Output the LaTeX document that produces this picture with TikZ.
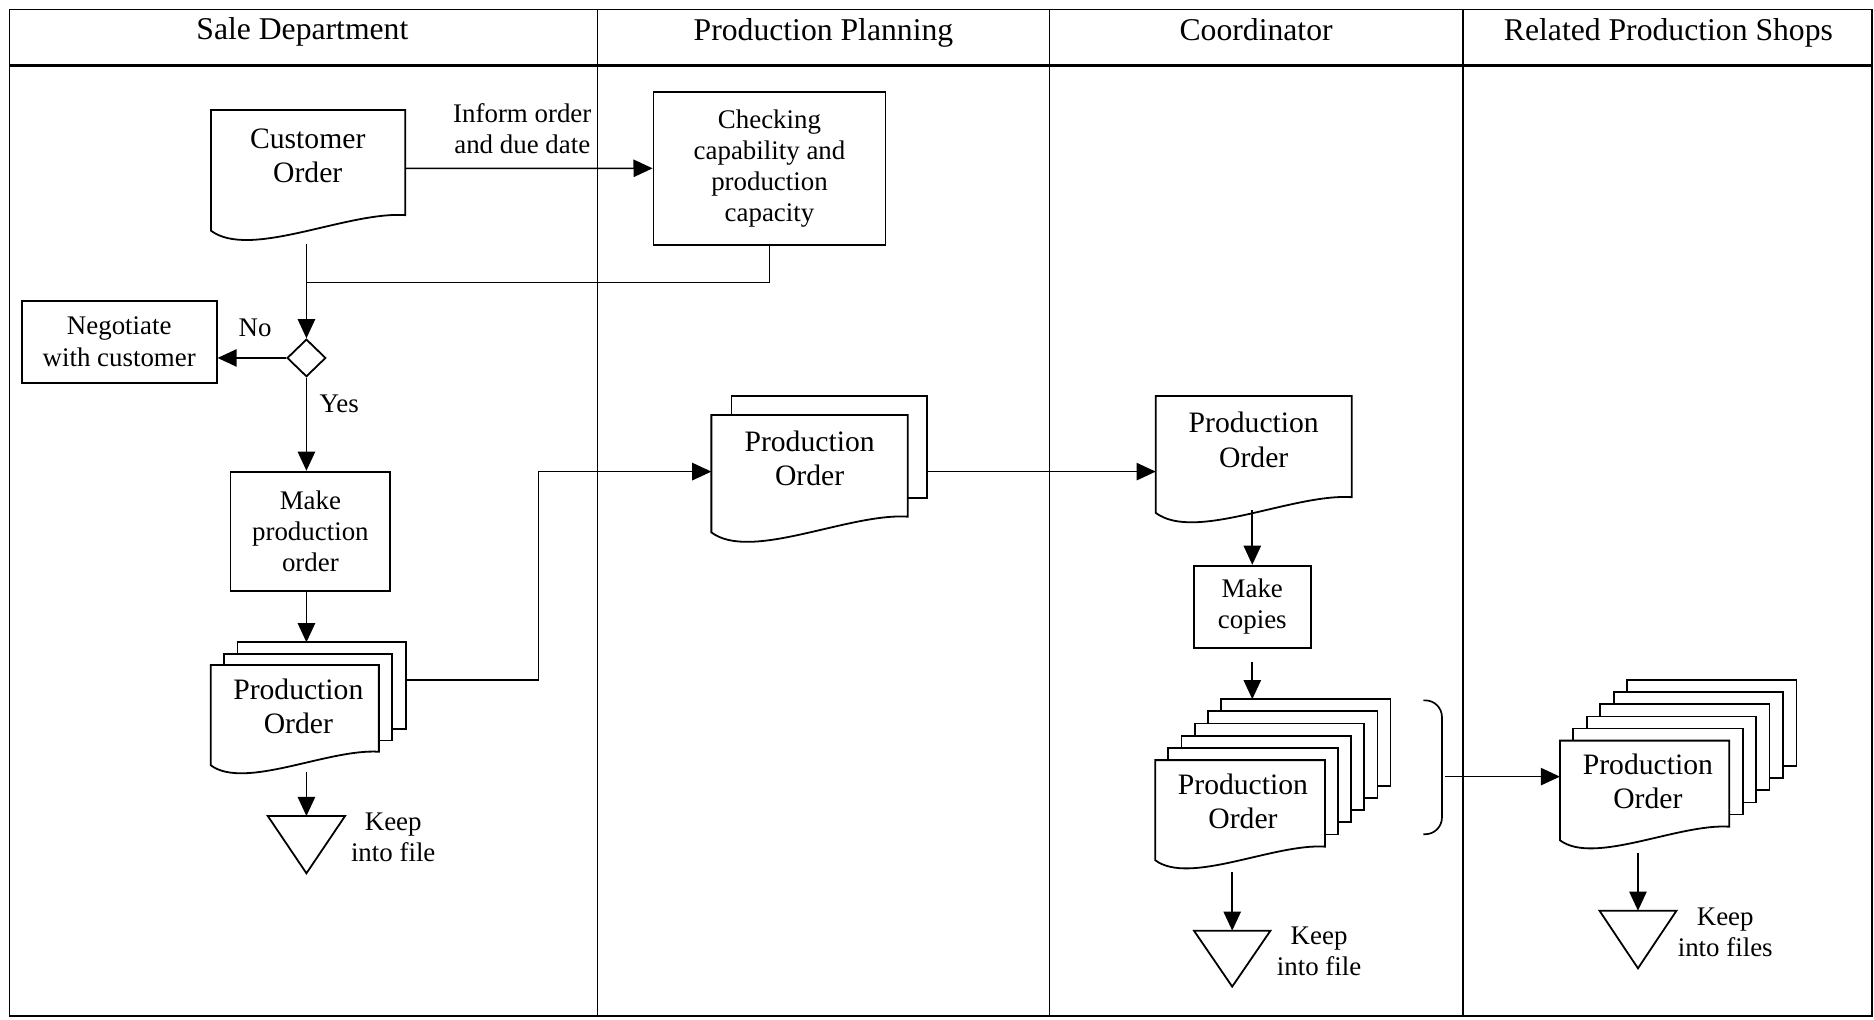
\documentclass[tikz,border=0pt]{standalone}
\usepackage{fontspec}
\setmainfont{Liberation Serif}
\usetikzlibrary{arrows.meta,shapes.geometric}

% document sheet with a wavy lower edge: left, top, right, right-bottom (y grows downward)
\newcommand\docsheet[4]{%
  \pgfmathsetmacro\dsW{#3-#1}%
  \pgfmathsetmacro\dsL{#4+0.08*\dsW}%
  \pgfmathsetmacro\dsA{#3-0.3*\dsW}%
  \pgfmathsetmacro\dsD{#4-0.02*\dsW}%
  \pgfmathsetmacro\dsB{#1+0.2*\dsW}%
  \pgfmathsetmacro\dsC{\dsL+0.15*\dsW}%
  \draw[sheet] (#1,#2) -- (#3,#2) -- (#3,#4) .. controls (\dsA,\dsD) and (\dsB,\dsC) .. (#1,\dsL) -- cycle;%
}

\begin{document}
\begin{tikzpicture}[x=1pt,y=-1pt,
  wire/.style={line width=1.4pt},
  arr/.style={wire,-{Triangle[length=16pt,width=14.5pt]}},
  sheet/.style={draw,line width=1.5pt,fill=white},
  box/.style={draw,line width=1.5pt,fill=white,inner sep=0pt,align=center,
              font={\fontsize{22.5}{26}\selectfont}},
  lbl/.style={inner sep=0pt,align=center,font={\fontsize{22.5}{26}\selectfont}},
  doclbl/.style={inner sep=0pt,align=center,font={\fontsize{24.8}{29}\selectfont}},
  head/.style={inner sep=0pt,anchor=base,font={\fontsize{26.5}{30}\selectfont}},
]
\useasboundingbox (0,0) rectangle (1568,853);

% ---------- swimlanes ----------
\draw[line width=1.5pt] (8,8) rectangle (1566,850);
\draw[line width=2.2pt] (8,55) -- (1566,55);
\foreach \x in {500,878,1224} \draw[line width=1.3pt] (\x,8) -- (\x,850);

\node[head] (h1) at (253,33)  {Sale Department};
\node[head] (h2) at (689,33.5)  {Production Planning};
\node[head] (h3) at (1051,33.5) {Coordinator};
\node[head] (h4) at (1396,33.5) {Related Production Shops};

% ---------- Sale Department ----------
\docsheet{176.5}{92}{339}{180}
\node[doclbl] (co) at (257.5,130.3) {Customer\\Order};
\coordinate (co-r) at (339,140.9);
\coordinate (co-out) at (256.4,204.4);

\node[box,minimum width=194.1pt,minimum height=128.3pt] (ck) at (643.85,140.85)
  {Checking\\capability and\\production\\capacity};
\node[lbl] (inf) at (437,108) {Inform order\\and due date};
\draw[arr] (co-r) -- (ck.west);

\node[draw,diamond,line width=1.5pt,fill=white,inner sep=0pt,
      minimum width=32.4pt,minimum height=31.4pt] (dia) at (256.4,299.5) {};
\coordinate (join) at (256.4,236.5);
\draw[wire] (ck.south) -- (ck.south |- join) -- (join);
\draw[arr] (co-out) -- (dia.north);

\node[box,minimum width=163.1pt,minimum height=68.6pt] (neg) at (99.75,285.9)
  {Negotiate\\with customer};
\draw[arr] (dia.west) -- (dia.west -| neg.east);
\node[lbl] (no) at (213.4,274) {No};
\node[lbl] (yes) at (283.8,337.5) {Yes};

\node[box,minimum width=133.6pt,minimum height=99.9pt] (mpo) at (259.7,444.6)
  {Make\\production\\order};
\draw[arr] (dia.south) -- (dia.south |- mpo.north);

% stack of production orders
\foreach \i in {2,1}
  \draw[sheet] ({176.3+11.2*\i},{556.4-9.5*\i}) rectangle ++(140.7,72.6);
\docsheet{176.3}{556.4}{317}{629}
\node[doclbl] (so) at (249.6,590.9) {Production\\Order};
\coordinate (so-top) at (256.4,537.4);
\coordinate (so-r) at (339.4,569);
\coordinate (so-out) at (256.4,646);
\draw[arr] (mpo.south -| dia.south) -- (so-top);

\draw[sheet] (224.1,682.8) -- (288.7,682.8) -- (256.4,730.7) -- cycle;
\coordinate (k1) at (256.4,682.8);
\draw[arr] (so-out) -- (k1);
\node[lbl] (k1t) at (329,700.3) {Keep\\into file};

% ---------- Production Planning ----------
\draw[sheet] (612,331.3) rectangle (775.6,416.4);
\docsheet{595.2}{347.2}{759.6}{432.3}
\node[doclbl] (pp) at (677.4,383.5) {Production\\Order};
\coordinate (pp-in) at (595.2,394.6);
\coordinate (pp-r) at (775.6,394.6);
\draw[arr] (so-r) -- (450.5,569) |- (pp-in);

% ---------- Coordinator ----------
\docsheet{967}{331.3}{1131}{416}
\node[doclbl] (cd) at (1049,368) {Production\\Order};
\coordinate (cd-in) at (967,394.6);
\coordinate (cd-out) at (1047.8,426.7);
\draw[arr] (pp-r) -- (cd-in);

\node[box,minimum width=97.9pt,minimum height=68.6pt] (mc) at (1047.8,507.6) {Make\\copies};
\draw[arr] (cd-out) -- (mc.north);

\foreach \i in {5,4,3,2,1}
  \draw[sheet] ({966.6+10.98*\i},{636-10.2*\i}) rectangle ++(142,72.4);
\docsheet{966.6}{636}{1108.6}{708.4}
\node[doclbl] (cs) at (1040,670.6) {Production\\Order};
\coordinate (cs-top) at (1047.8,585);
\coordinate (cs-out) at (1031,729.3);
\draw[arr] ([yshift=-11pt]mc.south) -- (cs-top);

\draw[sheet] (999,778.7) -- (1063,778.7) -- (1031,825.5) -- cycle;
\coordinate (k2) at (1031,778.7);
\draw[arr] (cs-out) -- (k2);
\node[lbl] (k2t) at (1103.7,795.8) {Keep\\into file};

% bracket grouping the copies
\draw[wire,rounded corners=14pt] (1191,586) -- (1206.5,586) -- (1206.5,698) -- (1191,698);
\coordinate (brk) at (1209.4,649.8);

% ---------- Related Production Shops ----------
\foreach \i in {5,4,3,2,1}
  \draw[sheet] ({1305.2+11.24*\i},{619.7-10.14*\i}) rectangle ++(141.7,72);
\docsheet{1305.2}{619.7}{1446.9}{691.7}
\node[doclbl] (rs) at (1378.8,653.9) {Production\\Order};
\coordinate (rs-in) at (1305.2,649.8);
\coordinate (rs-out) at (1370.5,714);
\draw[arr] (brk) -- (rs-in);

\draw[sheet] (1338.3,762) -- (1402.7,762) -- (1370.5,810.2) -- cycle;
\coordinate (k3) at (1370.5,762);
\draw[arr] (rs-out) -- (k3);
\node[lbl] (k3t) at (1443.5,780.4) {Keep\\into files};
\end{tikzpicture}
\end{document}
